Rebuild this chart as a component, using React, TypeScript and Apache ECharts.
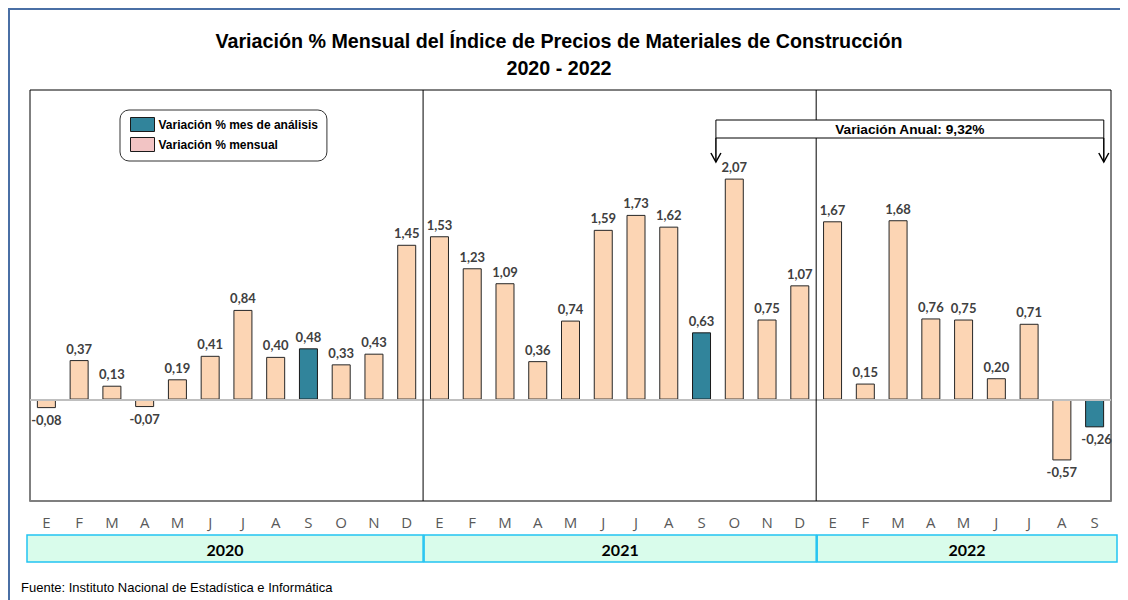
import React, { useEffect, useRef } from "react";
import * as echarts from "echarts";

const monthLetters = ["E", "F", "M", "A", "M", "J", "J", "A", "S", "O", "N", "D"];
const years = ["2020", "2021", "2022"];
const values2020 = [-0.08, 0.37, 0.13, -0.07, 0.19, 0.41, 0.84, 0.4, 0.48, 0.33, 0.43, 1.45];
const values2021 = [1.53, 1.23, 1.09, 0.36, 0.74, 1.59, 1.73, 1.62, 0.63, 2.07, 0.75, 1.07];
const values2022 = [1.67, 0.15, 1.68, 0.76, 0.75, 0.2, 0.71, -0.57, -0.26];
const analysisMonth = 8; // Setiembre
const annualVariation = "9,32%";

const allValues = [...values2020, ...values2021, ...values2022];
const categories = [
  ...monthLetters,
  ...monthLetters,
  ...monthLetters.slice(0, values2022.length),
];
const yearCounts = [values2020.length, values2021.length, values2022.length];

const isHighlight = (i: number) => i % 12 === analysisMonth;
const fmt = (v: number) => v.toFixed(2).replace(".", ",");

export default function App() {
  const ref = useRef<HTMLDivElement>(null);
  useEffect(() => {
    if (!ref.current) return;
    const chart = echarts.init(ref.current, null, { renderer: "svg" });
    const mk = (highlight: boolean) =>
      allValues.map((v, i) => {
        if (isHighlight(i) !== highlight) return "-";
        return {
          value: v,
          label: {
            position: v < 0 ? "bottom" : "top",
            offset: i === allValues.length - 1 ? [2, 0] : [0, 0],
          },
        };
      });
    const labelCfg = {
      show: true,
      fontFamily: "Lato",
      fontWeight: "bold",
      fontSize: 13,
      color: "#404040",
      distance: 5,
      formatter: (p: any) => fmt(p.value),
    };
    chart.setOption({
      animation: false,
      title: {
        text: "Variación % Mensual del Índice de Precios de Materiales de Construcción\n2020 - 2022",
        left: 546,
        textAlign: "center",
        top: 14,
        textStyle: {
          fontFamily: "Liberation Sans",
          fontWeight: "bold",
          fontSize: 19.7,
          lineHeight: 27,
          color: "#000",
        },
      },
      legend: {
        orient: "vertical",
        left: 112,
        top: 102,
        padding: [7, 9, 9, 10],
        itemWidth: 24,
        itemHeight: 14,
        itemGap: 5,
        backgroundColor: "#fff",
        borderColor: "#333",
        borderWidth: 1,
        borderRadius: 9,
        selectedMode: false,
        textStyle: {
          fontFamily: "Liberation Sans",
          fontWeight: "bold",
          fontSize: 12,
          color: "#000",
          padding: [0, 0, 0, -1],
        },
        data: [
          {
            name: "Variación % mes de análisis",
            icon: "rect",
            itemStyle: { color: "#31849B", borderColor: "#1a1a1a", borderWidth: 1 },
          },
          {
            name: "Variación % mensual",
            icon: "rect",
            itemStyle: { color: "#F2C4C4", borderColor: "#1a1a1a", borderWidth: 1 },
          },
        ],
      },
      grid: {
        left: 22,
        top: 82,
        width: 1081,
        height: 411,
        show: true,
        borderColor: "#000",
        borderWidth: 1,
        backgroundColor: "transparent",
      },
      xAxis: {
        type: "category",
        data: categories,
        axisLine: { onZero: false, lineStyle: { color: "#7f7f7f", width: 2 } },
        axisTick: { show: false },
        axisLabel: {
          color: "#595959",
          fontFamily: "Open Sans",
          fontSize: 15,
          margin: 13,
          interval: 0,
        },
      },
      yAxis: {
        type: "value",
        min: -0.95,
        max: 2.9,
        show: false,
        splitLine: { show: false },
      },
      series: [
        {
          name: "Variación % mensual",
          type: "bar",
          barWidth: 19,
          barGap: "-100%",
          data: mk(false),
          itemStyle: { color: "#FCD5B4", borderColor: "#262626", borderWidth: 1 },
          label: labelCfg,
          markLine: {
            silent: true,
            symbol: "none",
            label: { show: false },
            lineStyle: { color: "#bfbfbf", width: 2, type: "solid" },
            data: [{ yAxis: 0 }],
          },
          z: 3,
        },
        {
          name: "Variación % mes de análisis",
          type: "bar",
          barWidth: 19,
          barGap: "-100%",
          data: mk(true),
          itemStyle: { color: "#31849B", borderColor: "#1a1a1a", borderWidth: 1 },
          label: labelCfg,
          z: 3,
        },
      ],
    });

    // Decorations positioned through the chart's own scales
    const xAt = (i: number) => chart.convertToPixel({ xAxisIndex: 0 }, i) as number;
    const band = xAt(1) - xAt(0);
    const top = chart.convertToPixel({ yAxisIndex: 0 }, 2.9) as number;
    const bottom = chart.convertToPixel({ yAxisIndex: 0 }, -0.95) as number;

    const graphics: any[] = [];
    // outer frame
    graphics.push({
      type: "line",
      shape: { x1: 0, y1: 1, x2: 1120, y2: 1 },
      style: { stroke: "#4A6FA5", lineWidth: 2 },
    });
    graphics.push({
      type: "line",
      shape: { x1: 1, y1: 0, x2: 1, y2: 592 },
      style: { stroke: "#4A6FA5", lineWidth: 2 },
    });

    let start = 0;
    yearCounts.forEach((n, k) => {
      const x0 = xAt(start) - band / 2;
      const x1 = xAt(start + n - 1) + band / 2;
      if (k > 0) {
        graphics.push({
          type: "line",
          shape: { x1: x0, y1: top, x2: x0, y2: bottom },
          style: { stroke: "#000", lineWidth: 1 },
          z: 10,
        });
      }
      const bx0 = k === 0 ? x0 - 3 : x0 + 1;
      const bx1 = k === yearCounts.length - 1 ? x1 + 6 : x1;
      graphics.push({
        type: "rect",
        shape: { x: bx0, y: 527, width: bx1 - bx0, height: 27 },
        style: { fill: "#D9FCEB", stroke: "#22C3F2", lineWidth: 1.5 },
      });
      graphics.push({
        type: "text",
        x: (bx0 + bx1) / 2,
        y: 541,
        style: {
          text: years[k],
          fill: "#000",
          font: "bold 16px Lato",
          align: "center",
          verticalAlign: "middle",
        },
      });
      start += n;
    });

    // annual variation annotation
    const ax0 = xAt(21) - band / 2 - 2;
    const ax1 = xAt(allValues.length - 1) + band * 0.28;
    graphics.push({
      type: "rect",
      shape: { x: ax0, y: 112, width: ax1 - ax0, height: 18 },
      style: { fill: "#fff", stroke: "#000", lineWidth: 1 },
      z: 20,
    });
    graphics.push({
      type: "text",
      x: (ax0 + ax1) / 2,
      y: 121,
      style: {
        text: "Variación Anual: " + annualVariation,
        fill: "#000",
        font: "bold 13.7px 'Liberation Sans'",
        align: "center",
        verticalAlign: "middle",
      },
      z: 21,
    });
    [ax0, ax1].forEach((ax) => {
      graphics.push({
        type: "line",
        shape: { x1: ax, y1: 130, x2: ax, y2: 154 },
        style: { stroke: "#000", lineWidth: 1.5 },
        z: 20,
      });
      graphics.push({
        type: "polyline",
        shape: { points: [[ax - 5, 145], [ax, 154], [ax + 5, 145]] },
        style: { stroke: "#000", lineWidth: 1.5, fill: "none" },
        z: 20,
      });
    });

    graphics.push({
      type: "text",
      x: 13,
      y: 579,
      style: {
        text: "Fuente: Instituto Nacional de Estadística e Informática",
        fill: "#000",
        font: "13px 'Liberation Sans'",
        verticalAlign: "middle",
      },
    });

    chart.setOption({ graphic: graphics });
    return () => chart.dispose();
  }, []);
  return <div ref={ref} style={{ width: 1120, height: 592 }} />;
}
